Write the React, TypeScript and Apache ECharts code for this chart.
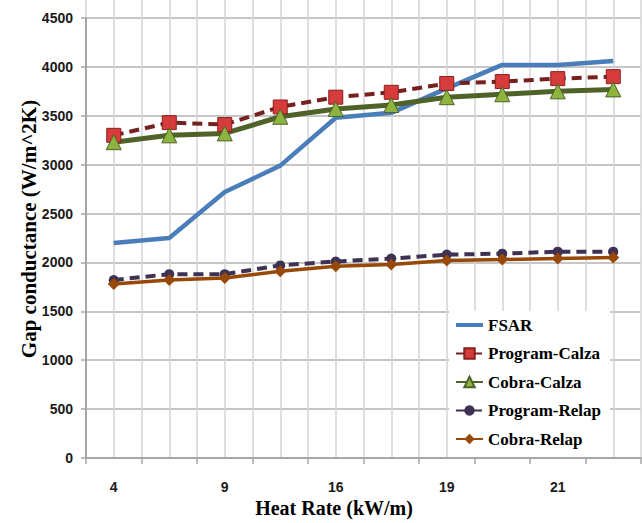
import React, { useEffect, useRef } from "react";
import * as echarts from "echarts";

const categories = ["4", "", "9", "", "16", "", "19", "", "21", ""];
const fsar = [2200, 2250, 2720, 2990, 3480, 3530, 3780, 4020, 4020, 4060];
const programCalza = [3300, 3430, 3410, 3590, 3690, 3740, 3830, 3850, 3880, 3900];
const cobraCalza = [3230, 3300, 3320, 3490, 3570, 3610, 3690, 3720, 3750, 3770];
const programRelap = [1820, 1880, 1880, 1970, 2010, 2040, 2080, 2090, 2110, 2110];
const cobraRelap = [1780, 1820, 1840, 1910, 1960, 1980, 2020, 2030, 2040, 2050];

const yTitle = "Gap conductance (W/m^2K)";
const xTitle = "Heat Rate (kW/m)";

export default function App() {
  const ref = useRef<HTMLDivElement>(null);
  useEffect(() => {
    if (!ref.current) return;
    const chart = echarts.init(ref.current, null, { renderer: "svg" });
    const labelFont = { fontFamily: "Liberation Sans", fontWeight: "bold" as const, fontSize: 14, color: "#1a1a1a" };
    chart.setOption({
      animation: false,
      backgroundColor: "#fff",
      grid: [
        { left: 86, right: 1, top: 18, bottom: 65 },
        { left: 86, right: 1, top: 0, bottom: 65 },
      ],
      xAxis: [
        {
          type: "category",
          gridIndex: 0,
          data: categories,
          boundaryGap: true,
          axisLine: { show: true, lineStyle: { color: "#a6a6a6", width: 2 } },
          axisTick: { show: true, interval: 0, length: 6, lineStyle: { color: "#a6a6a6", width: 1.5 } },
          axisLabel: { ...labelFont, interval: 1, margin: 22 },
          splitLine: { show: false },
        },
        {
          type: "value",
          gridIndex: 1,
          min: 0,
          max: 20,
          interval: 1,
          axisLine: { show: false },
          axisTick: { show: false },
          axisLabel: { show: false },
          splitLine: { show: true, lineStyle: { color: "#d4d4d4", width: 1.5 } },
        },
      ],
      yAxis: [
        {
          type: "value",
          gridIndex: 0,
          min: 0,
          max: 4500,
          interval: 500,
          axisLine: { show: true, lineStyle: { color: "#a6a6a6", width: 2 } },
          axisTick: { show: true, length: 5, lineStyle: { color: "#a6a6a6", width: 1.5 } },
          axisLabel: { ...labelFont, margin: 13, formatter: (v: number) => String(v) },
          splitLine: { show: true, lineStyle: { color: "#b3b3b3", width: 1.5 } },
        },
        { type: "value", gridIndex: 1, min: 0, max: 1, show: false, splitLine: { show: false } },
      ],
      legend: {
        orient: "vertical",
        left: 449,
        top: 311,
        padding: [4, 9, 8, 6],
        itemGap: 8.5,
        itemWidth: 27,
        itemHeight: 13,
        backgroundColor: "#fff",
        textStyle: { fontFamily: "Liberation Serif", fontWeight: "bold", fontSize: 17, color: "#000", lineHeight: 20 },
        data: [
          { name: "FSAR", icon: "path://M0,0 L27,0 L27,4 L0,4 Z" },
          "Program-Calza",
          "Cobra-Calza",
          "Program-Relap",
          "Cobra-Relap",
        ],
      },
      graphic: [
        {
          type: "text",
          x: 29,
          y: 229,
          rotation: Math.PI / 2,
          style: { text: yTitle, font: 'bold 21px "Liberation Serif"', align: "center", verticalAlign: "middle", fill: "#000" },
        },
        {
          type: "text",
          x: 334,
          y: 508,
          style: { text: xTitle, font: 'bold 20px "Liberation Serif"', align: "center", verticalAlign: "middle", fill: "#000" },
        },
      ],
      series: [
        {
          name: "FSAR",
          type: "line",
          data: fsar,
          symbol: "none",
          itemStyle: { color: "#4a7ebb" },
          lineStyle: { color: "#4a7ebb", width: 4.5 },
        },
        {
          name: "Program-Calza",
          type: "line",
          data: programCalza,
          symbol: "rect",
          symbolSize: 14,
          itemStyle: { color: "#d63c3c", borderColor: "#8b1f1f", borderWidth: 1 },
          lineStyle: { color: "#762020", width: 4, type: [10, 6] },
        },
        {
          name: "Cobra-Calza",
          type: "line",
          data: cobraCalza,
          symbol: "triangle",
          symbolSize: 15,
          itemStyle: { color: "#8db43e", borderColor: "#4f6228", borderWidth: 1 },
          lineStyle: { color: "#4f6228", width: 5 },
        },
        {
          name: "Program-Relap",
          type: "line",
          data: programRelap,
          symbol: "circle",
          symbolSize: 10,
          itemStyle: { color: "#3f3151" },
          lineStyle: { color: "#3f3151", width: 4, type: [10, 6] },
        },
        {
          name: "Cobra-Relap",
          type: "line",
          data: cobraRelap,
          symbol: "diamond",
          symbolSize: 12,
          itemStyle: { color: "#984807" },
          lineStyle: { color: "#984807", width: 3.5 },
        },
      ],
    });
    return () => chart.dispose();
  }, []);
  return <div ref={ref} style={{ width: 642, height: 523, position: "absolute", left: 0, top: 0 }} />;
}
